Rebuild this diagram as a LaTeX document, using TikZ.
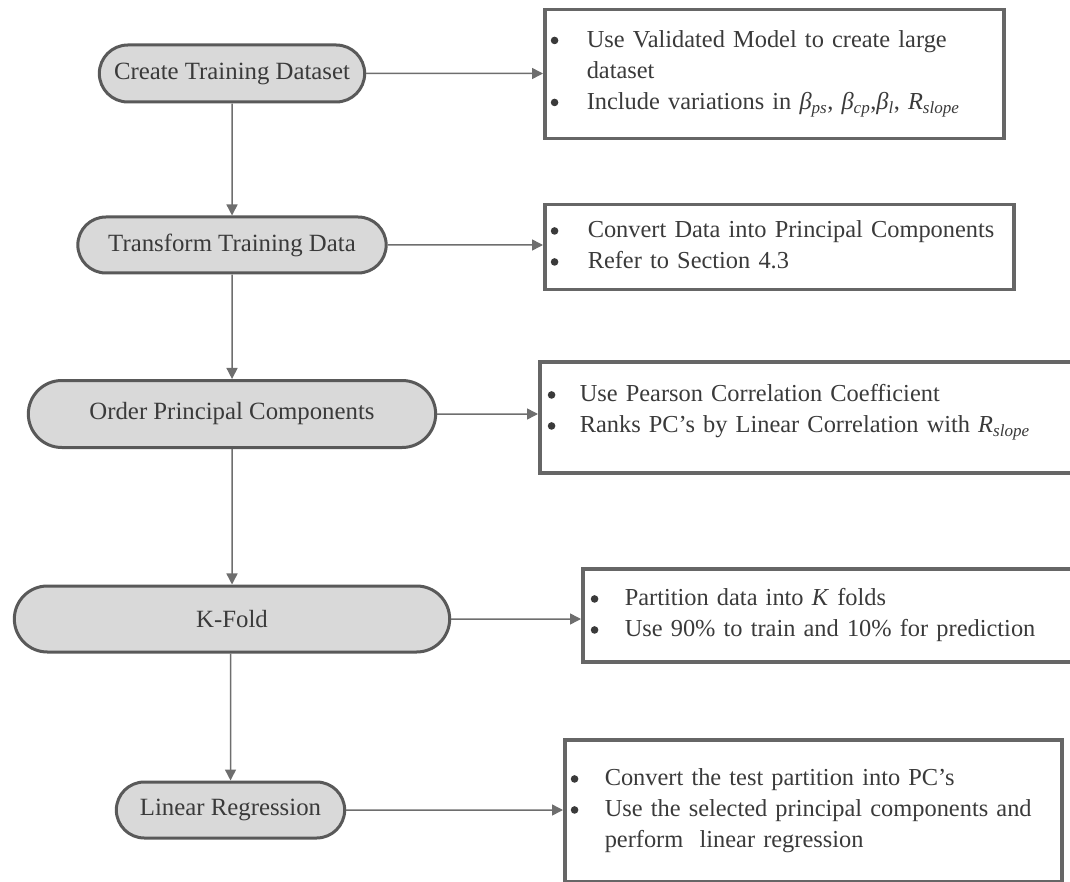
\documentclass[tikz,border=0pt]{standalone}
\usepackage{fontspec}
\setmainfont{Liberation Serif}
\usetikzlibrary{shapes.misc}
\usetikzlibrary{arrows.meta}

\definecolor{stagefill}{HTML}{D9D9D9}
\definecolor{stageedge}{HTML}{595959}
\definecolor{noteedge}{HTML}{666666}
\definecolor{flowgray}{HTML}{6E6E6E}
\definecolor{inkgray}{HTML}{3A3A3A}

% two-column bullet list used inside the note boxes
\newcommand{\blist}[3]{\begin{tabular}{@{}p{#1}@{}p{#2}@{}}#3\end{tabular}}
\newcommand{\bdot}{\hspace*{1pt}\tikz[x=1pt,y=1pt,baseline=-7pt]\fill[inkgray] (3.8,0) circle (3.8);}
\newcommand{\bit}[1]{\bdot & #1 \\}
\newcommand{\sub}[2]{\textit{#1}\textsubscript{\textit{#2}}}

\tikzset{
  stage/.style={rounded rectangle, draw=stageedge, line width=3pt, fill=stagefill,
    text=inkgray, font=\fontsize{24.8}{31}\selectfont},
  note/.style={rectangle, draw=noteedge, line width=3.5pt, anchor=north west,
    text=inkgray, align=left, inner ysep=0pt, font=\fontsize{24.4}{31}\selectfont},
  flow/.style={draw=flowgray, line width=1.5pt, -{Triangle[length=11pt,width=11pt]}, fill=flowgray}
}

\begin{document}
\begin{tikzpicture}[x=1pt,y=-1pt]
\path[use as bounding box, clip] (0,0) rectangle (1070,882);

% process stages
\node[stage, minimum width=272pt, minimum height=57pt] (train) at (232,73.5) {Create Training Dataset};
\node[stage, minimum width=315pt, minimum height=56pt] (transform) at (232,245) {Transform Training Data};
\node[stage, minimum width=414pt, minimum height=67pt] (order) at (232,414) {Order Principal Components};
\node[stage, minimum width=442pt, minimum height=66pt] (kfold) at (232,619) {K-Fold};
\node[stage, minimum width=235pt, minimum height=56pt] (regress) at (230.5,810) {Linear Regression};

% notes
\node[note, minimum width=459pt, minimum height=129pt, inner xsep=5pt, text width=449pt] (trainnote) at (543,8)
  {\raisebox{2pt}[\height][\depth]{\blist{37pt}{410pt}{\bit{Use Validated Model to create large\newline dataset}
   \bit{Include variations in \sub{β}{ps}, \sub{β}{cp},\sub{β}{l}, \sub{R}{slope}}}}};
\node[note, minimum width=469pt, minimum height=85pt, inner xsep=5pt, text width=459pt] (transformnote) at (543,203)
  {\blist{38pt}{420pt}{\bit{Convert Data into Principal Components}
   \bit{Refer to Section 4.3}}};
\node[note, minimum width=540pt, minimum height=111pt, inner xsep=7pt, text width=526pt] (ordernote) at (538,360)
  {\raisebox{6pt}[\height][\depth]{\blist{33pt}{490pt}{\bit{Use Pearson Correlation Coefficient}
   \bit{Ranks PC’s by Linear Correlation with \sub{R}{slope}}}}};
\node[note, minimum width=500pt, minimum height=93pt, inner xsep=7pt, text width=486pt] (kfoldnote) at (581,567)
  {\blist{35pt}{450pt}{\bit{Partition data into \textit{K} folds}
   \bit{Use 90\% to train and 10\% for prediction}}};
\node[note, minimum width=497pt, minimum height=142pt, inner xsep=5pt, text width=487pt] (regressnote) at (563,738)
  {\blist{35pt}{450pt}{\bit{Convert the test partition into PC’s}
   \bit{Use the selected principal components and\newline perform\ \ linear regression}}};

% flow down the stages
\draw[flow] (train) -- (transform);
\draw[flow] (transform) -- (order);
\draw[flow] (order) -- (kfold);
\draw[flow] (kfold.south -| regress.north) -- (regress);

% links to the notes
\draw[flow] (train) -- (train -| trainnote.west);
\draw[flow] (transform) -- (transform -| transformnote.west);
\draw[flow] (order) -- (order -| ordernote.west);
\draw[flow] (kfold) -- (kfold -| kfoldnote.west);
\draw[flow] (regress) -- (regress -| regressnote.west);
\end{tikzpicture}
\end{document}
